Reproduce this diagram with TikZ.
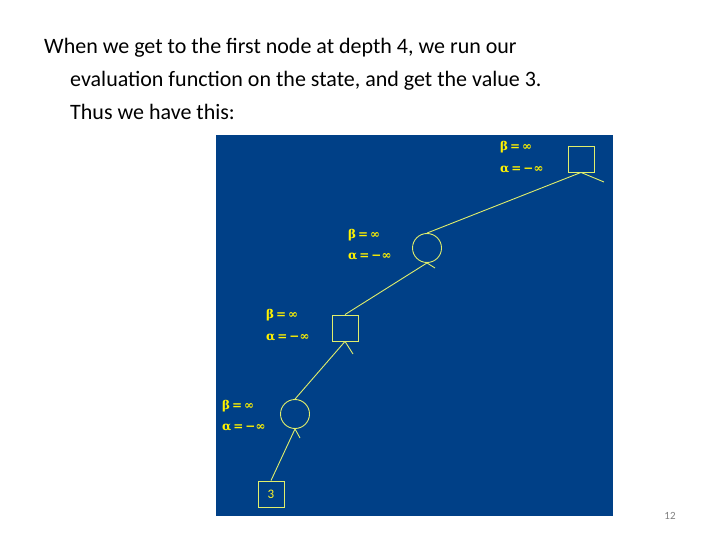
\documentclass[tikz,border=0pt]{standalone}
\usepackage{fontspec}
\setmainfont{Carlito}
\newfontfamily\labfont{DejaVu Serif}
\begin{document}
\begin{tikzpicture}[x=1pt,y=-1pt,
  ln/.style={draw=yellow!80!green!60!white,line width=0.9pt},
  sq/.style={ln,minimum size=26pt,inner sep=0pt},
  cir/.style={ln,circle,minimum size=29pt,inner sep=0pt},
  lab/.style={text=yellow,font=\labfont\bfseries\fontsize{12}{12}\selectfont,anchor=west,inner sep=0pt},
  txt/.style={anchor=base west,font=\fontsize{22}{22}\selectfont,inner sep=0pt}]
\useasboundingbox (0,0) rectangle (720,540);
\fill[fill={rgb,255:red,0;green,64;blue,135}] (216,135) rectangle (613,516);
\node[txt] (t1) at (44,54) {When we get to the first node at depth 4, we run our};
\node[txt] (t2) at (70,87) {evaluation function on the state, and get the value 3.};
\node[txt] (t3) at (70,120) {Thus we have this:};
\node[anchor=base,font=\fontsize{11}{11}\selectfont,text=gray] (pg) at (670,519) {12};
\node[sq] (s1) at (581,159) {};
\node[cir] (c1) at (427,248) {};
\node[sq] (s2) at (345,328) {};
\node[cir] (c2) at (295,414) {};
\node[sq,text=yellow!85!white,font=\fontsize{13}{13}\selectfont] (s3) at (271,494) {3};
\coordinate (e1) at (604,182);
\coordinate (e2) at (435,268);
\coordinate (e3) at (353,354);
\coordinate (e4) at (300,438);
\draw[ln] (s1.south) -- (c1.north);
\draw[ln] (c1.south) -- (s2.north);
\draw[ln] (s2.south) -- (c2.north);
\draw[ln] (c2.south) -- (s3.north);
\draw[ln] (s1.south) -- (e1);
\draw[ln] (c1.south) -- (e2);
\draw[ln] (s2.south) -- (e3);
\draw[ln] (c2.south) -- (e4);
\node[lab] (b1) at (500,147) {β\,=\,∞};
\node[lab] (a1) at (500,170) {α\,=\,−∞};
\node[lab] (b2) at (348,235) {β\,=\,∞};
\node[lab] (a2) at (348,257) {α\,=\,−∞};
\node[lab] (b3) at (266,315) {β\,=\,∞};
\node[lab] (a3) at (266,338) {α\,=\,−∞};
\node[lab] (b4) at (222,406) {β\,=\,∞};
\node[lab] (a4) at (222,428) {α\,=\,−∞};
\end{tikzpicture}
\end{document}
